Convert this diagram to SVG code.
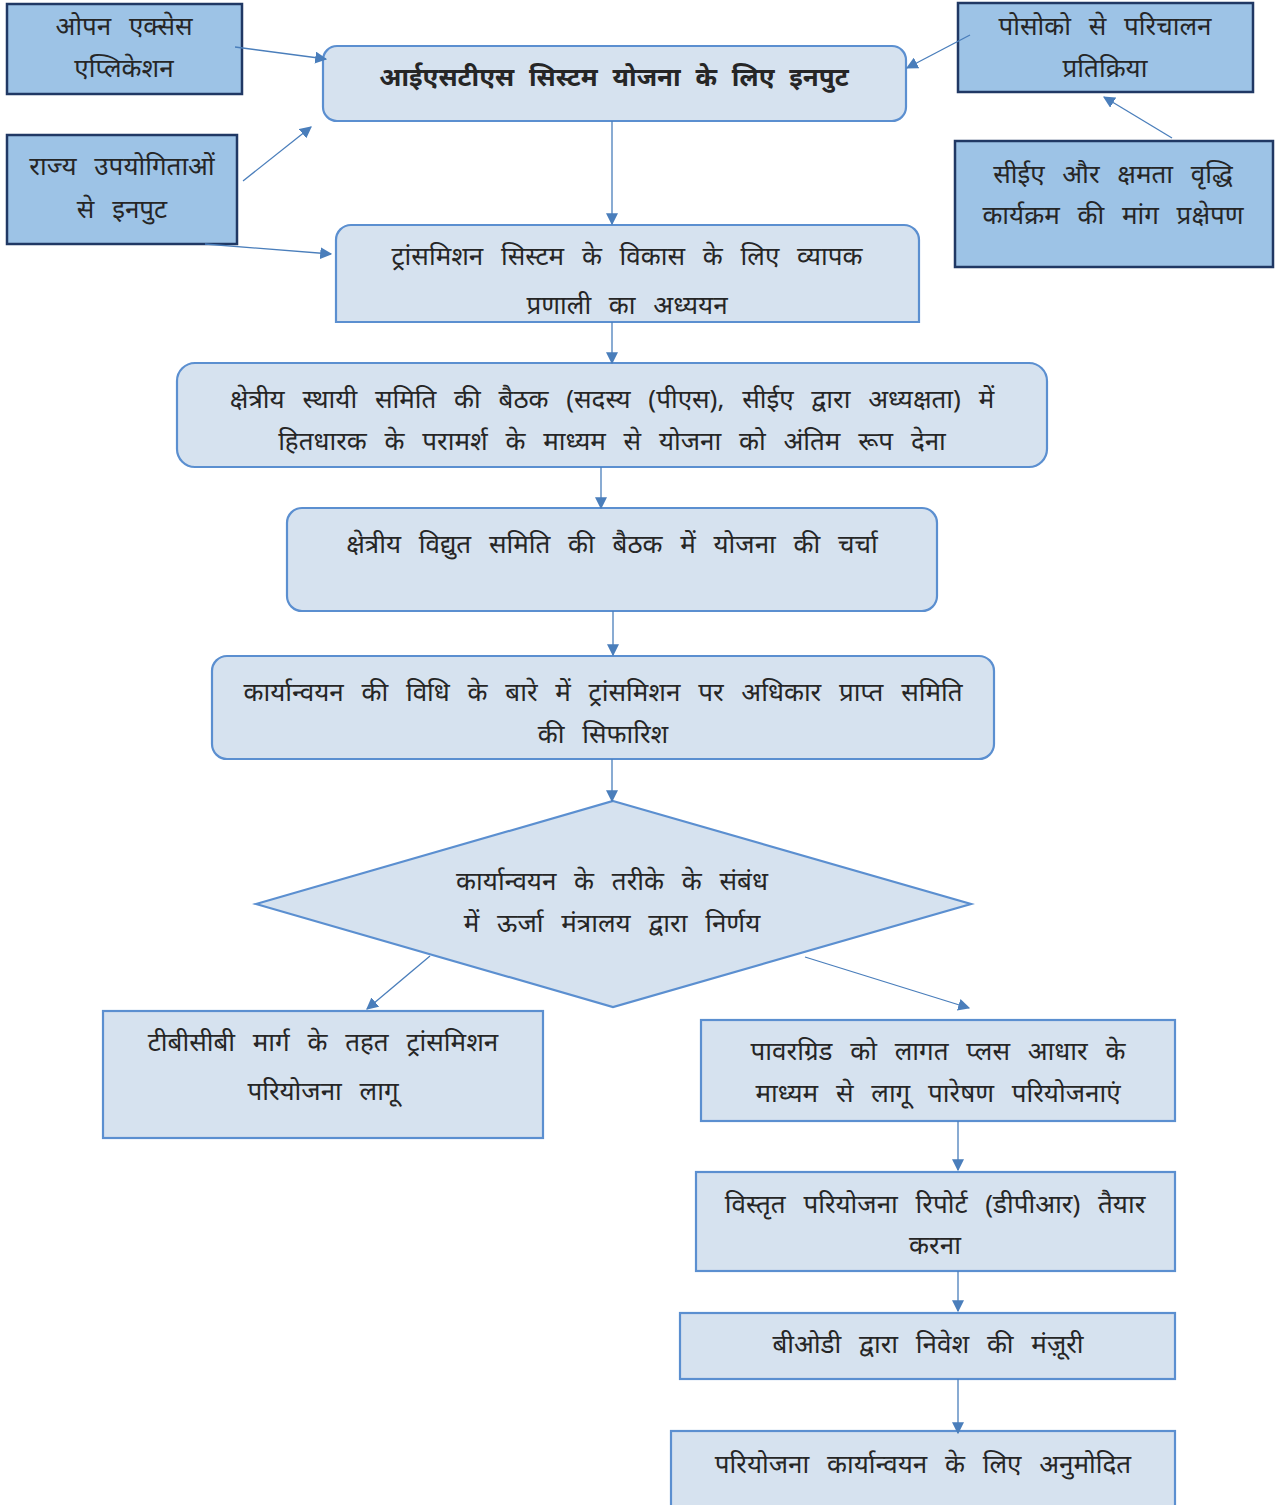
<svg xmlns="http://www.w3.org/2000/svg" width="1283" height="1505" viewBox="0 0 1283 1505">
<style>
.src{fill:#9dc3e6;stroke:#203864;stroke-width:2.5}
.mn{fill:#d6e2ef;stroke:#5b8fd0;stroke-width:2.2}
text{font-family:"Noto Sans","Noto Sans CJK SC",sans-serif;font-size:26px;fill:#262626;text-anchor:middle;word-spacing:11px}
.b{font-weight:bold;font-size:26px;word-spacing:8px}
.c line{stroke:#4a7ebb;stroke-width:1.3;marker-end:url(#ah)}
</style>
<defs>
<marker id="ah" viewBox="0 0 10 10" refX="9" refY="5" markerWidth="12" markerHeight="12" markerUnits="userSpaceOnUse" orient="auto"><path d="M0,0L10,5L0,10z" fill="#4a7ebb"/></marker>
</defs>
<rect width="1283" height="1505" fill="#fff"/>
<g id="n-open"><rect class="src" x="7" y="4" width="235" height="90"/><text x="124" y="35">ओपन एक्सेस</text><text x="124" y="77">एप्लिकेशन</text></g>
<g id="n-state"><rect class="src" x="7" y="135" width="230" height="109"/><text x="122" y="175">राज्य उपयोगिताओं</text><text x="122" y="218">से इनपुट</text></g>
<g id="n-posoco"><rect class="src" x="958" y="3" width="295" height="89"/><text x="1105" y="35">पोसोको से परिचालन</text><text x="1105" y="77">प्रतिक्रिया</text></g>
<g id="n-cea"><rect class="src" x="955" y="141" width="318" height="126"/><text x="1113" y="183">सीईए और क्षमता वृद्धि</text><text x="1113" y="224">कार्यक्रम की मांग प्रक्षेपण</text></g>
<g id="n-a"><rect class="mn" x="323" y="46" width="583" height="75" rx="14"/><text class="b" x="614" y="86">आईएसटीएस सिस्टम योजना के लिए इनपुट</text></g>
<g id="n-b"><path class="mn" d="M336,322V240a15,15 0 0 1 15,-15H904a15,15 0 0 1 15,15V322z"/><text x="627" y="265">ट्रांसमिशन सिस्टम के विकास के लिए व्यापक</text><text x="627" y="314">प्रणाली का अध्ययन</text></g>
<g id="n-c"><rect class="mn" x="177" y="363" width="870" height="104" rx="18"/><text x="612" y="408">क्षेत्रीय स्थायी समिति की बैठक (सदस्य (पीएस), सीईए द्वारा अध्यक्षता) में</text><text x="612" y="450">हितधारक के परामर्श के माध्यम से योजना को अंतिम रूप देना</text></g>
<g id="n-d"><rect class="mn" x="287" y="508" width="650" height="103" rx="15"/><text x="612" y="553">क्षेत्रीय विद्युत समिति की बैठक में योजना की चर्चा</text></g>
<g id="n-e"><rect class="mn" x="212" y="656" width="782" height="103" rx="15"/><text x="603" y="701">कार्यान्वयन की विधि के बारे में ट्रांसमिशन पर अधिकार प्राप्त समिति</text><text x="603" y="743">की सिफारिश</text></g>
<g id="n-dec"><polygon class="mn" points="613,801 971,904 613,1007 256,904"/><text x="612" y="890">कार्यान्वयन के तरीके के संबंध</text><text x="612" y="932">में ऊर्जा मंत्रालय द्वारा निर्णय</text></g>
<g id="n-f"><rect class="mn" x="103" y="1011" width="440" height="127"/><text x="323" y="1051">टीबीसीबी मार्ग के तहत ट्रांसमिशन</text><text x="323" y="1100">परियोजना लागू</text></g>
<g id="n-g"><rect class="mn" x="701" y="1020" width="474" height="101"/><text x="938" y="1060">पावरग्रिड को लागत प्लस आधार के</text><text x="938" y="1102">माध्यम से लागू पारेषण परियोजनाएं</text></g>
<g id="n-h"><rect class="mn" x="696" y="1172" width="479" height="99"/><text x="935" y="1213">विस्तृत परियोजना रिपोर्ट (डीपीआर) तैयार</text><text x="935" y="1254">करना</text></g>
<g id="n-i"><rect class="mn" x="680" y="1313" width="495" height="66"/><text x="928" y="1353">बीओडी द्वारा निवेश की मंज़ूरी</text></g>
<g id="n-j"><rect class="mn" x="671" y="1431" width="504" height="80"/><text x="923" y="1473">परियोजना कार्यान्वयन के लिए अनुमोदित</text></g>
<g class="c" id="connectors">
<line x1="235" y1="47" x2="326" y2="59"/>
<line x1="243" y1="181" x2="311" y2="127"/>
<line x1="205" y1="244" x2="331" y2="254"/>
<line x1="970" y1="35" x2="907" y2="68"/>
<line x1="1172" y1="138" x2="1104" y2="97"/>
<line x1="612" y1="121" x2="612" y2="224"/>
<line x1="612" y1="322" x2="612" y2="363"/>
<line x1="601" y1="467" x2="601" y2="508"/>
<line x1="613" y1="611" x2="613" y2="655"/>
<line x1="612" y1="759" x2="612" y2="801"/>
<line x1="430" y1="956" x2="367" y2="1009"/>
<line x1="805" y1="957" x2="969" y2="1008"/>
<line x1="958" y1="1121" x2="958" y2="1170"/>
<line x1="958" y1="1271" x2="958" y2="1311"/>
<line x1="958" y1="1379" x2="958" y2="1433"/>
</g>
</svg>
